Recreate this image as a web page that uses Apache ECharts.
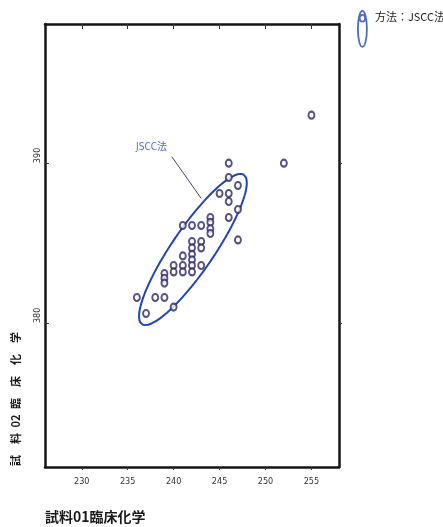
<!DOCTYPE html>
<html><head><meta charset="utf-8">
<script src="https://cdn.jsdelivr.net/npm/echarts@6/dist/echarts.min.js"></script>
<style>html,body{margin:0;padding:0;background:#fff}#c{width:443px;height:527px}</style>
</head><body><div id="c"></div>
<script>
// ---- data ----
const xTicks = [230, 235, 240, 245, 250, 255];
const yTicks = [380, 390];
const xValues = [255, 252, 246, 246, 247, 245, 246, 246, 247, 246, 244, 244, 244, 244,
  241, 242, 243, 247, 242, 243, 242, 243, 242, 241, 242, 242, 243, 241, 240, 242, 241, 240,
  239, 239, 239, 236, 238, 239, 240, 237];
const yValues = [393, 390, 390, 389.1, 388.6, 388.1, 388.1, 387.6, 387.1, 386.6, 386.6, 386.3, 385.9, 385.6,
  386.1, 386.1, 386.1, 385.2, 385.1, 385.1, 384.7, 384.7, 384.3, 384.2, 383.95, 383.6, 383.6, 383.6, 383.6, 383.2, 383.2, 383.2,
  383.1, 382.8, 382.5, 381.6, 381.6, 381.6, 381.0, 380.6];
const seriesName = '方法：JSCC法';
const xTitle = '試料01臨床化学';
const yTitle = '試\u3000料\u200202\u2002臨\u3000床\u3000化\u3000学';
// confidence ellipse parameters (data units)
const ellipseCenter = [242.1, 384.6];
const ellipseAxisA = [5.55, 4.67];
const ellipseAxisB = [1.9, -0.74];
// annotation
const leaderLine = [[239.8, 390.4], [243.0, 387.8]];
const leaderLabelPos = [237.6, 391.0];
const leaderLabel = 'JSCC法';

const narrow = "'Liberation Sans Narrow','DejaVu Sans Condensed','Noto Sans CJK JP',sans-serif";
const cjk = "'Noto Sans CJK JP',sans-serif";

const points = xValues.map((x, i) => [x, yValues[i]]);
const ellipsePts = [];
for (let k = 0; k <= 120; k++) {
  const t = k / 120 * Math.PI * 2;
  ellipsePts.push([
    ellipseCenter[0] + ellipseAxisA[0] * Math.cos(t) + ellipseAxisB[0] * Math.sin(t),
    ellipseCenter[1] + ellipseAxisA[1] * Math.cos(t) + ellipseAxisB[1] * Math.sin(t)
  ]);
}

const axisLineStyle = { color: '#151515', width: 2.5 };
const chart = echarts.init(document.getElementById('c'), null, { renderer: 'canvas' });
chart.setOption({
  animation: false,
  grid: { left: 45, top: 24, width: 294, height: 443, show: false },
  xAxis: [
    { type: 'value', min: 226, max: 258, position: 'bottom',
      axisLine: { show: true, onZero: false, lineStyle: axisLineStyle },
      axisTick: { show: true, inside: false, length: 3, customValues: xTicks, lineStyle: { color: '#333' } },
      axisLabel: { show: true, customValues: xTicks, margin: 10, fontSize: 9, color: '#333', fontFamily: narrow },
      splitLine: { show: false } },
    { type: 'value', min: 226, max: 258, position: 'top',
      axisLine: { show: true, onZero: false, lineStyle: axisLineStyle },
      axisTick: { show: true, inside: true, length: 5, customValues: xTicks, lineStyle: { color: '#333' } },
      axisLabel: { show: false },
      splitLine: { show: false } }
  ],
  yAxis: [
    { type: 'value', min: 371, max: 398.7, position: 'left',
      axisLine: { show: true, onZero: false, lineStyle: axisLineStyle },
      axisTick: { show: true, inside: true, length: 4, customValues: yTicks, lineStyle: { color: '#333' } },
      axisLabel: { show: true, customValues: yTicks, rotate: 90, align: 'left', verticalAlign: 'middle',
        margin: 7, fontSize: 9, color: '#333', fontFamily: narrow },
      splitLine: { show: false } },
    { type: 'value', min: 371, max: 398.7, position: 'right',
      axisLine: { show: true, onZero: false, lineStyle: axisLineStyle },
      axisTick: { show: true, inside: false, length: 3, customValues: yTicks, lineStyle: { color: '#333' } },
      axisLabel: { show: false },
      splitLine: { show: false } }
  ],
  legend: {
    data: [{ name: seriesName,
      icon: 'path://M5,0C7.8,0,10,9,10,20C10,31,7.8,40,5,40C2.2,40,0,31,0,20C0,9,2.2,0,5,0Z M5,4.5C6.7,4.5,8,6.1,8,8.2C8,10.3,6.7,12,5,12C3.3,12,2,10.3,2,8.2C2,6.1,3.3,4.5,5,4.5Z' }],
    left: 357, top: 10, padding: 0, itemWidth: 9, itemHeight: 41, selectedMode: false,
    formatter: function (n) { return n + '\n \n '; },
    itemStyle: { color: 'rgba(0,0,0,0)', borderColor: '#2045b5', borderWidth: 1.8 },
    textStyle: { fontSize: 11, lineHeight: 12, color: '#222', fontFamily: cjk, padding: [0, 0, 0, 3] }
  },
  series: [
    { type: 'line', name: 'ellipse', data: ellipsePts, showSymbol: false, symbol: 'none', silent: true,
      lineStyle: { color: '#2045b5', width: 2 }, z: 2 },
    { type: 'scatter', name: seriesName, data: points, symbol: 'emptyCircle', symbolSize: [6, 7],
      itemStyle: { color: '#2b2766', borderColor: '#2b2766', borderWidth: 2 }, z: 3, silent: true },
    { type: 'line', name: 'leader', data: leaderLine, showSymbol: false, symbol: 'none', silent: true,
      lineStyle: { color: '#4b3d6e', width: 1 }, z: 2 },
    { type: 'scatter', name: 'leaderLabel', data: [leaderLabelPos], symbolSize: 0, silent: true,
      itemStyle: { color: 'rgba(0,0,0,0)' },
      label: { show: true, position: 'inside', formatter: leaderLabel, fontSize: 10, color: '#2a4aa8', fontFamily: narrow } }
  ],
  graphic: [
    { type: 'text', x: 45, y: 517, silent: true,
      style: { text: xTitle, font: 'bold 14px ' + cjk, fill: '#1a1a1a', align: 'left', verticalAlign: 'middle', textAlign: 'left', textVerticalAlign: 'middle' } },
    { type: 'text', x: 16, y: 466, rotation: Math.PI / 2, silent: true,
      style: { text: yTitle, font: 'bold 11px ' + cjk, fill: '#1a1a1a', align: 'left', verticalAlign: 'middle', textAlign: 'left', textVerticalAlign: 'middle' } }
  ]
});
</script>
</body></html>
